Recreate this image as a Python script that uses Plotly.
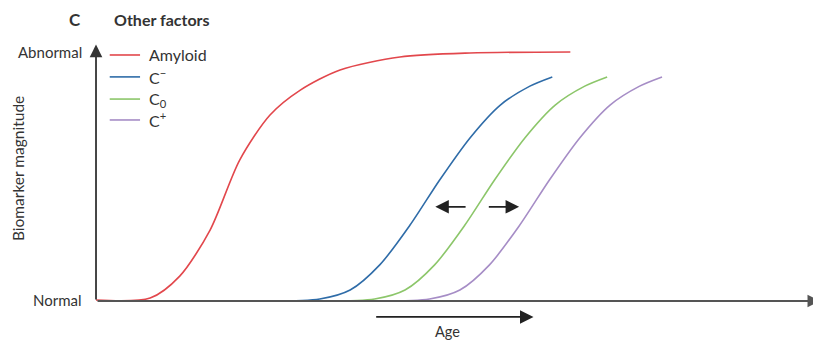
import plotly.graph_objects as go

# Schematic data (age units 0-100, magnitude 0=Normal, 1=Abnormal)
amyloid_x = [0, 7.5, 11.6, 15.8, 19.9, 24.1, 28.3, 33.8, 42.1, 51.8, 65.7]
amyloid_y = [0.004, 0.012, 0.10, 0.285, 0.566, 0.747, 0.847, 0.928, 0.98, 0.996, 1.0]

cminus_x = [24.4, 31.0, 35.2, 39.3, 43.5, 47.6, 51.8, 56.0, 60.1, 63.2]
cminus_y = [0.0, 0.008, 0.044, 0.145, 0.305, 0.486, 0.655, 0.787, 0.863, 0.9]

c0_x = [32.0, 38.6, 42.8, 46.9, 51.1, 55.2, 59.4, 63.6, 67.7, 70.8]
c0_y = [0.0, 0.008, 0.044, 0.145, 0.305, 0.486, 0.655, 0.787, 0.863, 0.9]

cplus_x = [39.6, 46.2, 50.4, 54.5, 58.7, 62.8, 67.0, 71.2, 75.3, 78.4]
cplus_y = [0.0, 0.008, 0.044, 0.145, 0.305, 0.486, 0.655, 0.787, 0.863, 0.9]

series_names = ["Amyloid", "C<sup>−</sup>", "C<sub>0</sub>", "C<sup>+</sup>"]
colors = ["#e2474c", "#2f6ca8", "#8cc66a", "#a68dc6"]

FONT = "Lato, 'Open Sans', sans-serif"
TXT = "#333333"

fig = go.Figure()
for xs, ys, c in [(amyloid_x, amyloid_y, colors[0]), (cminus_x, cminus_y, colors[1]),
                  (c0_x, c0_y, colors[2]), (cplus_x, cplus_y, colors[3])]:
    fig.add_trace(go.Scatter(x=xs, y=ys, mode="lines", line=dict(color=c, width=1.6, shape="spline", smoothing=0.8),
                             showlegend=False, hoverinfo="skip"))

ann = []
def arrow(x0, y0, x1, y1, w=1.6, color="#222", size=1.3):
    ann.append(dict(x=x1, y=y1, ax=x0, ay=y0, xref="x", yref="y", axref="x", ayref="y",
                    showarrow=True, arrowhead=2, arrowsize=size, arrowwidth=w, arrowcolor=color, text=""))

# axes
arrow(0, 0, 0, 1.03, w=1.8, color="#333", size=1.4)
arrow(0, 0, 100.3, 0, w=1.8, color="#555", size=1.4)
# age arrow
arrow(38.6, -0.064, 60.6, -0.064, w=1.8, color="#222", size=1.5)
# shift arrows
arrow(51.4, 0.378, 47.0, 0.378, w=1.8, color="#222", size=1.5)
arrow(54.2, 0.378, 58.6, 0.378, w=1.8, color="#222", size=1.5)

def text(x, y, t, xanchor="center", size=14, **kw):
    ann.append(dict(x=x, y=y, xref="x", yref="y", text=t, showarrow=False, xanchor=xanchor, yanchor="middle",
                    font=dict(family=FONT, size=size, color=TXT), **kw))

text(-1.6, 1.0, "Abnormal", xanchor="right", size=15)
text(-1.6, 0.004, "Normal", xanchor="right", size=15)
text(48.7, -0.124, "Age", size=14.5)
ann.append(dict(x=-10.8, y=0.53, xref="x", yref="y", text="Biomarker magnitude", showarrow=False, textangle=-90,
                font=dict(family=FONT, size=15.5, color=TXT)))
# title
text(-2.9, 1.13, "<b>C</b>", xanchor="center", size=17)
text(2.2, 1.132, "<b>Other factors</b>", xanchor="left", size=16)

# manual legend
shapes = []
leg_y = [0.988, 0.9, 0.811, 0.727]
for name, c, yy in zip(series_names, colors, leg_y):
    shapes.append(dict(type="line", xref="x", yref="y", x0=1.9, x1=6.1, y0=yy, y1=yy, line=dict(color=c, width=1.6)))
    text(7.0, yy, name, xanchor="left", size=16)

# the page body adds an 8px margin; figure sized and ranged to compensate
fig.update_layout(
    width=813, height=334, margin=dict(l=0, r=0, t=0, b=0),
    paper_bgcolor="white", plot_bgcolor="white",
    xaxis=dict(range=[-12.19, 100.42], visible=False, fixedrange=True),
    yaxis=dict(range=[-0.1647, 1.1767], visible=False, fixedrange=True),
    annotations=ann, shapes=shapes,
)
fig.write_html("out.html")
